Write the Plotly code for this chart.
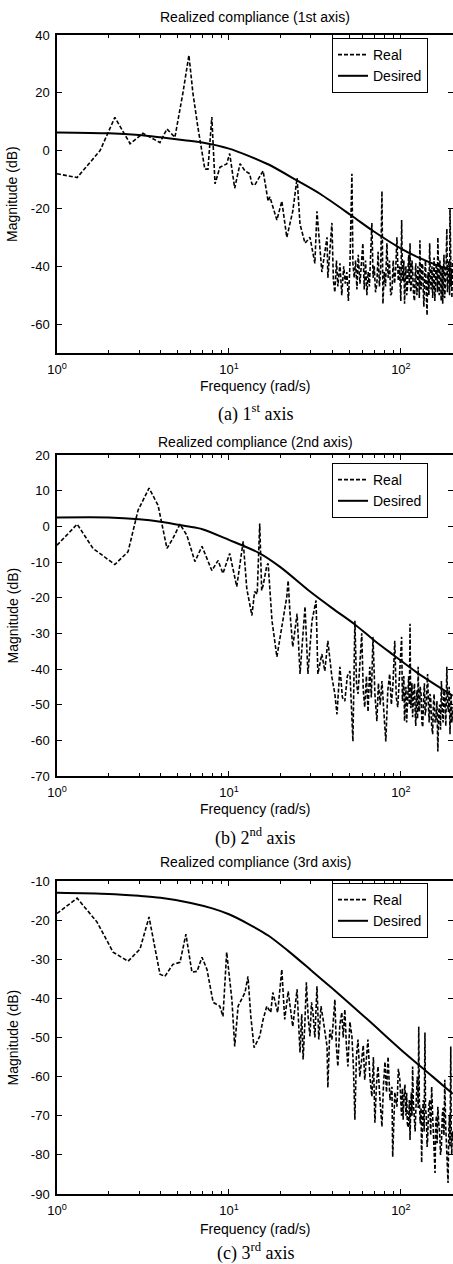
import plotly.graph_objects as go

# ---------------- data ----------------
# Plot (a) 1st axis
real1_f = [1, 1.31, 1.78, 2.17, 2.66, 3.16, 3.97, 4.36, 4.85, 5.40, 5.85, 6.17, 6.6, 7.24, 7.55, 7.95,
           8.3, 8.85, 9.7, 10.1, 10.8, 11.6, 12.4, 13.2, 13.6, 14.1, 15.8, 16.6, 16.9, 17.3, 19.0, 20.3,
           21.7, 23.5, 24.9, 25.9, 27.7, 29.6, 31.6, 32.5, 34.7, 37.2, 37.6,
           39.7, 40.5, 41.3, 42.2, 43.0, 44.2, 45.3, 46.5, 47.5, 48.5, 49.5, 50.5, 51.9, 52.6, 53.5, 54.5,
           55.5, 56.5, 57.8, 59.0, 60.1, 61.2, 62.3, 63.4, 64.5, 65.6, 66.7, 67.8, 68.9, 70.0, 71.2, 72.5,
           73.7, 75.0, 76.3, 77.6, 78.6, 80.0, 81.4, 82.9, 84.3, 85.8, 87.2, 88.7, 90.2, 91.8, 93.3, 94.8,
           96.5, 98.2, 99.9,
           101, 102, 103, 104, 105, 106, 107, 108, 109, 110, 111, 112, 113, 114, 115, 116, 117, 118.5,
           120, 121, 122, 123, 124, 125.5, 127, 128, 129, 130, 131, 132.5, 134, 135, 136, 137.5, 139,
           140.5, 142, 143, 144, 145.5, 147, 148.5, 150, 151.5, 153, 154.5, 156, 157.5, 159, 160.5, 162,
           163, 164, 165.5, 167, 168.5, 170, 171.5, 173, 174, 175, 176.5, 178, 179.5, 181, 183, 185,
           186.5, 188, 189.5, 191, 192, 193, 194.5, 196, 197, 198, 199, 200]
real1_db = [-8, -9.3, 0, 11.5, 2.4, 6, 2.8, 7.5, 4.6, 20, 33, 20, 8, -6.4, -6.4, 11.6,
            -11.5, -5.8, -4.6, -1, -13, -4.5, -7, -8, -11.5, -12, -7, -14, -17.5, -16, -24, -17.5,
            -30, -21, -9.5, -25.5, -32, -30, -39, -21, -42, -30, -44,
            -25, -45, -49, -38, -47, -39, -50, -40, -46, -42, -52, -40, -8, -39, -44, -38,
            -48, -36, -46, -40, -32, -48, -38, -50, -42, -47, -36, -25, -44, -40, -49, -46,
            -35, -47, -41, -14, -53, -42, -47, -32, -44, -38, -50, -49, -38, -46, -41, -30,
            -45, -40, -52,
            -24, -44, -45, -38, -53, -44, -40, -50, -48, -41, -36, -46, -32, -49, -47, -38, -41, -50,
            -52, -43, -39, -47, -50, -40, -44, -51, -31, -45, -48, -39, -40, -49, -54, -43, -38,
            -50, -57, -45, -42, -50, -32, -46, -48, -40, -51, -44, -37, -52, -47, -39, -42,
            -49, -30, -47, -50, -38, -41, -52, -46, -40, -53, -44, -36, -51, -48, -40, -27,
            -49, -45, -38, -40, -50, -20, -46, -47, -41, -51, -44, -38]
des1_f = [1, 2, 3, 4, 5.5, 7, 10, 13, 17, 25, 34, 52, 69, 99, 129, 160, 200]
des1_db = [6.3, 6.0, 5.4, 4.6, 3.6, 2.8, 0.7, -1.8, -4.8, -10.4, -15, -22.6, -27.8, -33.7, -37.2, -39.5, -41.5]

# Plot (b) 2nd axis
real2_f = [1, 1.31, 1.62, 2.17, 2.59, 2.96, 3.43, 3.87, 4.36, 4.72, 5.19, 5.69, 6.34, 6.97, 7.95, 8.64,
           9.23, 10.1, 11.1, 12.1, 12.7, 13.6, 14.1, 14.6, 15.1, 15.5, 15.8, 16.6, 16.9, 17.8, 19, 20.3,
           21.7, 22.1, 22.6, 23.5, 24.9, 25.9, 27.7, 28.8, 30.4, 32.1, 32.9, 34.7, 36.1, 37.6, 39.7, 41.3,
           42.5, 44.2, 45.7, 47.2, 48.8, 50.5, 51.5, 52.6, 54.0, 55.2, 56.3, 57.7, 59.2, 60.4, 61.6, 63.0,
           64.4, 65.9, 67.3, 68.8, 70.6, 72.5, 74.0, 75.8, 77.6, 79.6, 81.7, 83.9, 86.1, 88.0, 90.0, 92.1,
           94.0, 95.9, 98.0,
           101, 102, 103, 104, 105, 106, 107, 108, 109, 110, 111, 112, 113, 114, 115, 116, 117, 118.5,
           120, 121, 122, 123, 124, 125, 126, 127, 128, 129.5, 131, 132.5, 134, 135.5, 137, 138.5, 140,
           141.5, 143, 144.5, 146, 147.5, 149, 151, 153, 154.5, 156, 158, 160, 162, 164, 166, 168, 170,
           172, 174, 176, 178, 180, 182.5, 185, 187, 189, 191, 193, 194.5, 196, 198, 200]
real2_db = [-5.3, 0.6, -6.2, -10.7, -7.1, 4.5, 10.7, 5.9, -6.2, -3.4, 0.6, -2.5, -9.9, -5.6, -12.4, -9.6,
            -13.2, -7.6, -16.9, -4.2, -17.5, -25, -18.3, -19, 0.8, -18, -16.6, -11, -10.4, -26.5, -36.6, -28,
            -19.7, -15.2, -23.7, -33.8, -24.5, -41.4, -22.5, -41.4, -26.5, -20.8, -41.4, -35.8, -40.6, -32.1, -42.3, -47,
            -52.7, -39.4, -48, -49, -42, -40.6, -50, -60.3, -26.5, -44, -47, -40, -30, -46, -50.7, -42,
            -52, -39.4, -48, -31, -47, -54.6, -44, -50, -43.4, -52, -60.3, -46, -41.4, -50, -44, -32.1,
            -48, -50.7, -42,
            -31, -49, -47, -42, -54.6, -48, -45, -55, -52, -46, -42, -50, -27.3, -51, -48, -44, -53.5, -47,
            -44, -52, -56, -49, -46, -54, -39.4, -50, -52, -45, -47, -55, -56.3, -48, -44, -53, -51,
            -46, -41.4, -50, -55, -47, -48, -56, -58.3, -50, -47, -55, -54, -49, -63.1, -52, -50, -57,
            -43.4, -52, -55, -46, -48, -56, -39.4, -50, -52, -45, -58.3, -51, -47, -55, -50.7]
des2_f = [1, 2, 3, 4, 5.7, 7, 10, 15, 20, 30, 40, 54, 70, 90, 124, 160, 200]
des2_db = [2.5, 2.5, 2.0, 1.3, 0, -0.8, -3.8, -7.5, -11.5, -18.5, -23, -27.5, -32, -36, -41, -44.5, -47.5]

# Plot (c) 3rd axis
real3_f = [1, 1.31, 1.71, 2.12, 2.59, 3.04, 3.43, 3.71, 3.97, 4.24, 4.72, 5.19, 5.62, 6.09, 6.52, 6.97,
           7.45, 8.09, 8.85, 9.23, 9.7, 10.4, 10.8, 11.3, 12.4, 12.9, 13.4, 14.0, 15.1, 15.8, 16.6, 17.5,
           18.0, 19.2, 20.3, 21.1, 22.1, 23.5,
           24.9, 25.4, 25.9, 26.5, 27.0, 27.6, 28.2, 28.9, 29.6, 30.2, 30.8, 31.6, 32.5, 33.3, 34.3, 35.3,
           36.2, 37.2, 37.6, 38.6, 39.7, 40.5, 41.3, 42.1, 43.0, 44.1, 45.3, 46.2, 47.2, 48.2, 49.2, 50.5,
           51.9, 53.0, 54.0, 55.1, 56.3, 57.7, 59.2, 60.4, 61.6, 63.0, 64.3, 66.0, 67.8, 69.2, 70.6, 72.1,
           73.6, 75.6, 77.6, 79.2, 80.8, 82.5, 84.2, 86.4, 88.7, 89.6, 92.2, 94.8, 96.7,
           98.6, 99.7, 100.8, 102, 103, 104, 105.5, 107, 108, 109, 110.5, 112, 113, 114, 115, 116, 117,
           118, 119.5, 121, 122, 123, 124.5, 126, 127, 128, 129.5, 131, 132, 133.5, 135, 136.5, 138, 139,
           140.5, 142, 143, 145, 147, 149, 151, 153, 154.5, 156, 158, 159.5, 161, 162.5, 164, 166, 168,
           170, 172, 174, 176, 178, 180, 182, 184, 186, 188, 190, 191.5, 193, 195, 196, 197.5, 199, 200]
real3_db = [-18.3, -14.4, -20.5, -28.2, -30.5, -27.4, -19.2, -26.7, -33.8, -34.4, -31.3, -30.8, -23.6, -33.3, -33.1, -29.5,
            -32.6, -41, -42, -44.6, -28.2, -40.3, -52.3, -42, -38.5, -34.4, -44.6, -52.6, -49.7, -45.4, -42, -43.6,
            -38.5, -43.6, -32.6, -45.4, -38.2, -47.2,
            -37.7, -46, -53.8, -44, -55.6, -47, -35.9, -45, -49.7, -41, -43.6, -50, -36.9, -50.5, -42, -45.4,
            -49, -52.3, -62.8, -48, -50.5, -44, -40.3, -52, -57.4, -47, -43.6, -50, -42.8, -52, -57.4, -46,
            -49.7, -58, -71, -55, -50.5, -60, -55.6, -52, -60.8, -54, -50.5, -60, -65.1, -55, -71.8, -62,
            -57.4, -66, -72.8, -62, -56.2, -64, -54.9, -66, -62.6, -80.5, -64, -67.7, -58,
            -60.8, -68, -70, -63, -71, -66, -62, -70, -64.1, -72, -73, -66, -76.2, -68, -64, -70, -57.4,
            -66, -70, -74, -69.2, -63, -60, -68, -47.2, -66, -72, -68, -82, -70, -66, -74, -48.7, -68,
            -70, -78, -76.2, -68, -66, -75, -62.6, -70, -74, -79, -84.6, -72, -70, -77, -67.7, -72, -74,
            -80, -77.9, -70, -68, -75, -60.8, -72, -76, -80, -87.2, -74, -70, -78, -52.3, -72, -80, -74, -76.2]
des3_f = [1, 2, 3, 4, 6, 8, 10, 13, 17, 22, 30, 40, 63.6, 100, 153, 200]
des3_db = [-13, -13.3, -13.8, -14.3, -15.6, -17.0, -18.5, -21.0, -24.0, -27.8, -32.8, -37.5, -45.3, -53.1, -60.0, -64.4]

titles = ["Realized compliance (1st axis)", "Realized compliance (2nd axis)", "Realized compliance (3rd axis)"]
captions = ["(a) 1<sup>st</sup> axis", "(b) 2<sup>nd</sup> axis", "(c) 3<sup>rd</sup> axis"]
y_ranges = [(-70, 40), (-70, 20), (-90, -10)]
y_ticks = [[-60, -40, -20, 0, 20, 40],
           [-70, -60, -50, -40, -30, -20, -10, 0, 10, 20],
           [-90, -80, -70, -60, -50, -40, -30, -20, -10]]
x_tickvals = [1, 10, 100]
x_ticktext = ["10<sup>0</sup>", "10<sup>1</sup>", "10<sup>2</sup>"]
x_minor = [2, 3, 4, 5, 6, 7, 8, 9, 20, 30, 40, 50, 60, 70, 80, 90, 200]

series = [(real1_f, real1_db, des1_f, des1_db),
          (real2_f, real2_db, des2_f, des2_db),
          (real3_f, real3_db, des3_f, des3_db)]

# ---------------- layout geometry (pixels) ----------------
W, H = 453, 1264
left_px = 57
plot_px = [(35, 353), (455, 776), (881, 1194)]     # top, bottom of each axis box
title_px = [17, 442, 862]
xlabel_px = [386, 809, 1229]
caption_px = [413, 837, 1252]
legend_top_px = [38, 463, 883]

def py(p):
    return 1 - p / H

SANS = "Liberation Sans, Arial, sans-serif"
SERIF = "Liberation Serif, Times New Roman, serif"

fig = go.Figure()
layout = dict(width=W, height=H, margin=dict(l=0, r=0, t=0, b=0, autoexpand=False),
              paper_bgcolor="white", plot_bgcolor="white",
              font=dict(family=SANS, color="black", size=13),
              annotations=[])

for i, (rf, rdb, df, ddb) in enumerate(series):
    n = "" if i == 0 else str(i + 1)
    leg = "legend" + n
    fig.add_trace(go.Scatter(x=rf, y=rdb, mode="lines", name="Real",
                             line=dict(color="black", width=1.6, dash="4px,2px"),
                             xaxis="x" + n, yaxis="y" + n, legend=leg))
    fig.add_trace(go.Scatter(x=df, y=ddb, mode="lines", name="Desired",
                             line=dict(color="black", width=2, shape="spline", smoothing=0.8),
                             xaxis="x" + n, yaxis="y" + n, legend=leg))
    top, bot = plot_px[i]
    layout["xaxis" + n] = dict(
        type="log", range=[0, 2.303], domain=[left_px / W, 1],
        anchor="y" + n, showgrid=False, zeroline=False, automargin=False,
        showline=True, linecolor="black", linewidth=1.5, mirror="ticks",
        ticks="inside", ticklen=5, tickcolor="black", tickwidth=1,
        tickvals=x_tickvals, ticktext=x_ticktext,
        tickfont=dict(family=SANS, size=13, color="black"),
        ticklabelstandoff=4,
        minor=dict(tickvals=x_minor, ticks="inside", ticklen=3, tickcolor="black", showgrid=False),
    )
    layout["yaxis" + n] = dict(
        range=list(y_ranges[i]), domain=[py(bot), py(top)],
        anchor="x" + n, showgrid=False, zeroline=False, automargin=False,
        showline=True, linecolor="black", linewidth=1.5, mirror="ticks",
        ticks="inside", ticklen=5, tickcolor="black", tickwidth=1,
        tickvals=y_ticks[i], ticktext=[str(v) for v in y_ticks[i]],
        tickfont=dict(family=SANS, size=13, color="black"),
        ticklabelstandoff=3,
    )
    layout[leg] = dict(
        x=332 / W, y=py(legend_top_px[i]), xanchor="left", yanchor="top",
        bgcolor="white", bordercolor="black", borderwidth=1,
        font=dict(family=SANS, size=14, color="black"),
        itemwidth=30, tracegroupgap=0,
    )
    cx = (left_px + W) / 2 / W
    layout["annotations"] += [
        dict(text=titles[i], x=cx, y=py(title_px[i]), xref="paper", yref="paper",
             xanchor="center", yanchor="middle", showarrow=False,
             font=dict(family=SANS, size=14, color="black")),
        dict(text="Frequency (rad/s)", x=cx, y=py(xlabel_px[i]), xref="paper", yref="paper",
             xanchor="center", yanchor="middle", showarrow=False,
             font=dict(family=SANS, size=14, color="black")),
        dict(text=captions[i], x=cx, y=py(caption_px[i]), xref="paper", yref="paper",
             xanchor="center", yanchor="middle", showarrow=False,
             font=dict(family=SERIF, size=18, color="black")),
        dict(text="Magnitude (dB)", x=12 / W, y=py((top + bot) / 2), xref="paper", yref="paper",
             xanchor="center", yanchor="middle", showarrow=False, textangle=-90,
             font=dict(family=SANS, size=14, color="black")),
    ]

fig.update_layout(**layout)
fig.write_html("out.html", config={"displayModeBar": False},
               post_script="document.body.style.margin='0';document.body.style.overflow='hidden';")
